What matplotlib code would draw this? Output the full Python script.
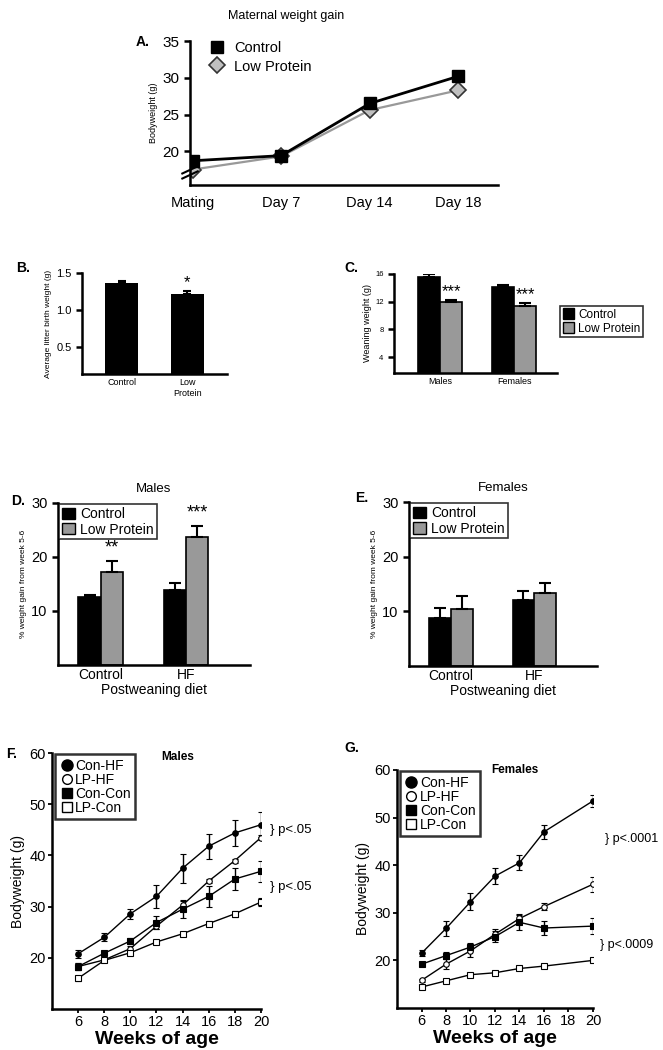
import matplotlib

matplotlib.use("Agg")
import matplotlib.pyplot as plt
import numpy as np
from matplotlib.lines import Line2D
from matplotlib.patches import Patch

plt.rcParams["font.family"] = ["Liberation Sans", "DejaVu Sans"]

# ---- data -------------------------------------------------------------
a_days = ["Mating", "Day 7", "Day 14", "Day 18"]
a_con = [18.7, 19.4, 26.5, 30.2]
a_con_err = [0.5, 0.3, 0.6, 0.7]
a_lp = [17.5, 19.3, 25.6, 28.3]
a_lp_err = [0.4, 0.3, 0.5, 0.5]

b_groups = ["Control", "Low\nProtein"]
b_vals = [1.37, 1.21]
b_err = [0.02, 0.04]

c_groups = ["Males", "Females"]
c_con = [15.6, 14.1]
c_con_err = [0.4, 0.3]
c_lp = [11.9, 11.4]
c_lp_err = [0.3, 0.4]

de_diets = ["Control", "HF"]
d_con = [12.5, 13.9]
d_con_err = [0.5, 1.3]
d_lp = [17.3, 23.7]
d_lp_err = [1.9, 2.1]
d_stars = ["**", "***"]

e_con = [8.7, 12.0]
e_con_err = [2.0, 1.8]
e_lp = [10.5, 13.3]
e_lp_err = [2.3, 1.8]

f_weeks = [6, 8, 10, 12, 14, 16, 18, 20]
f_conhf = [20.8, 24.0, 28.6, 32.0, 37.5, 41.8, 44.4, 46.0]
f_conhf_err = [0.8, 0.8, 1.0, 2.3, 2.8, 2.4, 2.5, 2.4]
f_lphf = [18.3, 19.6, 21.8, 26.2, 30.3, 35.0, 39.0, 43.5]
f_lphf_err = [0.6, 0.4, 0.5, 0.6, 0.8, 0.4, 0.4, 0.5]
f_concon = [18.3, 20.9, 23.3, 26.9, 29.5, 32.0, 35.4, 36.9]
f_concon_err = [0.7, 0.3, 0.5, 1.2, 1.8, 2.0, 2.2, 2.1]
f_lpcon = [16.0, 19.5, 21.0, 23.1, 24.7, 26.7, 28.6, 30.9]
f_lpcon_err = [0.5, 0.3, 0.4, 0.3, 0.3, 0.5, 0.6, 0.8]

g_weeks = [6, 8, 10, 12, 14, 16, 20]
g_conhf = [21.5, 26.7, 32.3, 37.7, 40.5, 47.0, 53.5]
g_conhf_err = [0.6, 1.5, 1.8, 1.7, 1.6, 1.5, 1.2]
g_lphf = [15.8, 19.2, 22.0, 25.5, 28.8, 31.3, 36.0]
g_lphf_err = [0.3, 1.0, 1.3, 1.0, 1.0, 0.8, 1.6]
g_concon = [19.2, 21.0, 22.8, 25.0, 28.0, 26.8, 27.2]
g_concon_err = [0.3, 0.7, 0.8, 1.2, 1.6, 1.4, 1.7]
g_lpcon = [14.4, 15.7, 17.0, 17.4, 18.3, 18.8, 20.0]
g_lpcon_err = [0.2, 0.2, 0.2, 0.2, 0.2, 0.2, 0.4]

GRAY = "#999999"
LW = 1.8


def style(ax, lw=LW):
    for s in ("top", "right"):
        ax.spines[s].set_visible(False)
    for s in ("left", "bottom"):
        ax.spines[s].set_linewidth(lw)
    ax.tick_params(axis="y", direction="out", width=lw, length=4)


def bar_pair(ax, x, con, con_err, lp, lp_err, w):
    ax.bar(x - w / 2, con, w, color="black", edgecolor="black", linewidth=1.2)
    ax.bar(x + w / 2, lp, w, color=GRAY, edgecolor="black", linewidth=1.2)
    ax.errorbar(x - w / 2, con, yerr=[np.zeros(len(con)), con_err], fmt="none",
                ecolor="black", elinewidth=1.5, capsize=4, capthick=1.5)
    ax.errorbar(x + w / 2, lp, yerr=[np.zeros(len(lp)), lp_err], fmt="none",
                ecolor="black", elinewidth=1.5, capsize=4, capthick=1.5)


fig = plt.figure(figsize=(6.63, 10.5), dpi=100)

# ---- A: maternal weight gain ----------------------------------------
axA = fig.add_axes([0.2866, 0.8238, 0.4646, 0.1371])
xa = np.arange(len(a_days))
axA.errorbar(xa, a_lp, yerr=a_lp_err, color=GRAY, lw=1.6, marker="D", ms=8,
             mfc="#c0c0c0", mec="#333333", mew=1.2, ecolor="#333333", capsize=3, zorder=2)
axA.errorbar(xa, a_con, yerr=a_con_err, color="black", lw=2.0, marker="s", ms=8,
             mfc="black", mec="black", ecolor="black", capsize=3, zorder=3)
axA.set_xlim(-0.03, 3.45)
axA.set_ylim(15.4, 35)
axA.set_yticks([20, 25, 30, 35])
axA.set_xticks(xa)
axA.set_xticklabels(a_days, fontsize=10.5)
axA.tick_params(axis="x", length=0, pad=8)
axA.tick_params(axis="y", labelsize=11)
axA.set_ylabel("Bodyweight (g)", fontsize=6.5, labelpad=3)
style(axA)
# axis break
for dy in (0.0, 0.035):
    axA.plot([-0.025, 0.025], [0.045 + dy, 0.095 + dy], transform=axA.transAxes,
             color="black", lw=1.5, clip_on=False, zorder=5)
axA.legend(handles=[Line2D([], [], ls="none", marker="s", ms=9, mfc="black", mec="black"),
                    Line2D([], [], ls="none", marker="D", ms=8, mfc="#c0c0c0", mec="#333333", mew=1.2)],
           labels=["Control", "Low Protein"], loc="upper left", bbox_to_anchor=(0.02, 1.04),
           frameon=False, fontsize=10.5, handletextpad=0.2, borderaxespad=0, labelspacing=0.3)
fig.text(0.432, 0.985, "Maternal weight gain", fontsize=9, ha="center", va="center")
fig.text(0.215, 0.96, "A.", fontsize=10, fontweight="bold", ha="center", va="center")

# ---- B: birth weight --------------------------------------------------
axB = fig.add_axes([0.1237, 0.6438, 0.2187, 0.0962])
xb = np.arange(len(b_groups))
axB.bar(xb, b_vals, 0.5, color="black")
axB.errorbar(xb, b_vals, yerr=[np.zeros(2), b_err], fmt="none", ecolor="black",
             elinewidth=1.5, capsize=3, capthick=1.5)
axB.text(xb[1], b_vals[1] + b_err[1] + 0.02, "*", ha="center", va="bottom", fontsize=12)
axB.set_xlim(-0.6, 1.6)
axB.set_ylim(0.13, 1.5)
axB.set_yticks([0.5, 1.0, 1.5])
axB.set_yticklabels(["0.5", "1.0", "1.5"])
axB.set_xticks(xb)
axB.set_xticklabels(b_groups, fontsize=6.5)
axB.tick_params(axis="x", length=0, pad=3)
axB.tick_params(axis="y", labelsize=8)
axB.set_ylabel("Average litter birth weight (g)", fontsize=6, labelpad=3)
style(axB)
fig.text(0.035, 0.745, "B.", fontsize=10, fontweight="bold", ha="center", va="center")

# ---- C: weaning weight -----------------------------------------------
axC = fig.add_axes([0.5943, 0.6448, 0.2459, 0.0943])
xc = np.arange(len(c_groups))
bar_pair(axC, xc, c_con, c_con_err, c_lp, c_lp_err, 0.3)
for i in range(2):
    axC.text(xc[i] + 0.15, c_lp[i] + c_lp_err[i] + 0.1, "***", ha="center",
             va="bottom", fontsize=12)
axC.set_xlim(-0.62, 1.58)
axC.set_ylim(1.7, 16)
axC.set_yticks([4, 8, 12, 16])
axC.set_xticks(xc)
axC.set_xticklabels(c_groups, fontsize=6.5)
axC.tick_params(axis="x", length=0, pad=3)
axC.tick_params(axis="y", labelsize=5.5, length=3)
axC.set_ylabel("Weaning weight (g)", fontsize=6.5, labelpad=2)
style(axC)
legC = axC.legend(handles=[Patch(fc="black", ec="black"), Patch(fc=GRAY, ec="black")],
                  labels=["Control", "Low Protein"], loc="center left",
                  bbox_to_anchor=(1.02, 0.52), fontsize=8.5, fancybox=False,
                  handlelength=1.0, handleheight=1.0, handletextpad=0.3,
                  borderpad=0.2, labelspacing=0.15, borderaxespad=0)
legC.get_frame().set_edgecolor("black")
legC.get_frame().set_linewidth(1.2)
fig.text(0.53, 0.745, "C.", fontsize=10, fontweight="bold", ha="center", va="center")

# ---- D / E: % weight gain ------------------------------------------
def gain_panel(rect, con, con_err, lp, lp_err, title, stars=None):
    ax = fig.add_axes(rect)
    x = np.arange(len(de_diets))
    bar_pair(ax, x, con, con_err, lp, lp_err, 0.26)
    if stars:
        for i, s in enumerate(stars):
            ax.text(x[i] + 0.13, lp[i] + lp_err[i] + 0.8, s, ha="center",
                    va="bottom", fontsize=13)
    ax.set_xlim(-0.5, 1.75)
    ax.set_ylim(0, 30)
    ax.set_yticks([10, 20, 30])
    ax.set_xticks(x)
    ax.set_xticklabels(de_diets, fontsize=10)
    ax.tick_params(axis="x", length=0, pad=2)
    ax.tick_params(axis="y", labelsize=10.5)
    ax.set_xlabel("Postweaning diet", fontsize=10, labelpad=1)
    ax.set_ylabel("% weight gain from week 5-6", fontsize=6, labelpad=3)
    ax.set_title(title, fontsize=9.5, pad=8)
    style(ax)
    leg = ax.legend(handles=[Patch(fc="black", ec="black"), Patch(fc=GRAY, ec="black")],
                    labels=["Control", "Low Protein"], loc="upper left",
                    bbox_to_anchor=(0.0, 1.0), fontsize=10, fancybox=False,
                    handlelength=0.9, handleheight=0.9, handletextpad=0.4,
                    borderpad=0.2, labelspacing=0.1, borderaxespad=0.1)
    leg.get_frame().set_edgecolor("black")
    leg.get_frame().set_linewidth(1.2)
    return ax


gain_panel([0.0875, 0.3667, 0.2896, 0.1543], d_con, d_con_err, d_lp, d_lp_err,
           "Males", d_stars)
fig.text(0.028, 0.523, "D.", fontsize=10, fontweight="bold", ha="center", va="center")
gain_panel([0.6169, 0.3657, 0.2836, 0.1562], e_con, e_con_err, e_lp, e_lp_err,
           "Females")
fig.text(0.545, 0.526, "E.", fontsize=10, fontweight="bold", ha="center", va="center")


# ---- F / G: growth curves -------------------------------------------
def growth_panel(rect, weeks, series, title, title_y, title_va):
    ax = fig.add_axes(rect)
    specs = [("o", "black"), ("o", "white"), ("s", "black"), ("s", "white")]
    for (vals, errs), (mk, fc) in zip(series, specs):
        ax.errorbar(weeks, vals, yerr=errs, color="black", lw=1.0, marker=mk,
                    ms=4, mfc=fc, mec="black", mew=0.8, ecolor="black",
                    elinewidth=1.0, capsize=2.5, capthick=1.0)
    ax.set_xlim(4, 20)
    ax.set_ylim(10, 60)
    ax.set_xticks([6, 8, 10, 12, 14, 16, 18, 20])
    ax.set_yticks([20, 30, 40, 50, 60])
    style(ax)
    ax.tick_params(axis="both", labelsize=10.5, direction="out", width=1.3,
                   length=3, pad=1.5)
    ax.set_xlabel("Weeks of age", fontsize=14, fontweight="bold", labelpad=1)
    ax.set_ylabel("Bodyweight (g)", fontsize=10, labelpad=3)
    ax.text(0.6, title_y, title, transform=ax.transAxes, fontsize=8.5,
            fontweight="bold", ha="center", va=title_va)
    handles = [Line2D([], [], ls="none", marker="o", ms=8, mfc="black", mec="black"),
               Line2D([], [], ls="none", marker="o", ms=7, mfc="white", mec="black"),
               Line2D([], [], ls="none", marker="s", ms=7, mfc="black", mec="black"),
               Line2D([], [], ls="none", marker="s", ms=7, mfc="white", mec="black")]
    leg = ax.legend(handles=handles, labels=["Con-HF", "LP-HF", "Con-Con", "LP-Con"],
                    loc="upper left", bbox_to_anchor=(0.01, 1.0), fontsize=10,
                    fancybox=False, handletextpad=0.1, handlelength=1.0,
                    borderpad=0.3, labelspacing=0.0, borderaxespad=0.1)
    leg.get_frame().set_edgecolor("black")
    leg.get_frame().set_linewidth(1.8)
    return ax


axF = growth_panel([0.0784, 0.039, 0.3152, 0.2438], f_weeks,
                   [(f_conhf, f_conhf_err), (f_lphf, f_lphf_err),
                    (f_concon, f_concon_err), (f_lpcon, f_lpcon_err)],
                   "Males", 0.985, "center")
axF.text(20.7, 45.0, "} p<.05", fontsize=9.5, va="center", ha="left", clip_on=False)
axF.text(20.7, 33.8, "} p<.05", fontsize=9.5, va="center", ha="left", clip_on=False)
fig.text(0.018, 0.282, "F.", fontsize=10, fontweight="bold", ha="center", va="center")

axG = growth_panel([0.5988, 0.040, 0.2956, 0.2267], g_weeks,
                   [(g_conhf, g_conhf_err), (g_lphf, g_lphf_err),
                    (g_concon, g_concon_err), (g_lpcon, g_lpcon_err)],
                   "Females", 1.0, "center")
axG.text(21.0, 45.5, "} p<.0001", fontsize=9, va="center", ha="left", clip_on=False)
axG.text(20.6, 23.3, "} p<.0009", fontsize=9, va="center", ha="left", clip_on=False)
fig.text(0.53, 0.288, "G.", fontsize=10, fontweight="bold", ha="center", va="center")

fig.savefig("out.png", dpi=100, facecolor="white")
